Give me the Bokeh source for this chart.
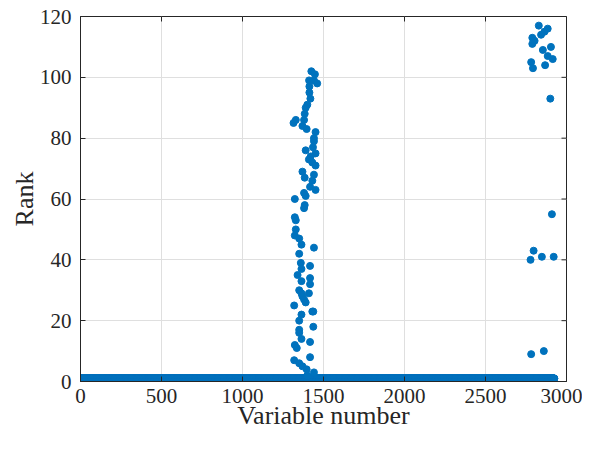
import numpy as np
from bokeh.plotting import figure
from bokeh.models import FixedTicker, Range1d
from bokeh.embed import file_html
from bokeh.resources import INLINE

# Baseline: every variable has rank 1 unless listed below
n_vars = 2925
base_x = list(range(1, n_vars + 1))
base_y = [1] * n_vars

# Cluster of higher-ranked variables around 1300-1460
c1_x = [1425, 1447, 1461, 1441, 1411, 1413, 1413, 1419, 1400, 1390, 1384, 1380, 1329, 1315,
        1370, 1396, 1451, 1441, 1441, 1435, 1390, 1451, 1421, 1410, 1431, 1451, 1370, 1441,
        1384, 1431, 1417, 1451, 1380, 1390, 1323, 1384, 1380, 1323, 1329, 1329, 1323, 1350,
        1364, 1441, 1350, 1360, 1417, 1364, 1340, 1417, 1364, 1417, 1350, 1364, 1410, 1370,
        1380, 1390, 1319, 1431, 1437, 1364, 1350, 1437, 1350, 1350, 1364, 1417, 1323, 1335,
        1417, 1319, 1350, 1370, 1396, 1441, 1400]
c1_y = [102, 101, 98, 99, 99, 97, 95, 93, 91, 90, 88, 86, 86, 85,
        84, 83, 82, 80, 79, 77, 76, 75, 74, 73, 72, 71, 69, 68,
        67, 66, 64, 63, 62, 61, 60, 58, 57, 54, 53, 50, 48, 47,
        45, 44, 42, 39, 38, 37, 35, 34, 33, 32, 30, 29, 29, 28,
        27, 26, 25, 23, 23, 22, 20, 18, 17, 16, 14, 13, 12, 11,
        8, 7, 6, 5, 4, 3, 2]

# Cluster near the end (2780-2925)
c2_x = [2829, 2884, 2864, 2843, 2789, 2803, 2789, 2904, 2854, 2884, 2915, 2782, 2868, 2793,
        2900, 2910, 2797, 2778, 2848, 2921, 2782, 2860]
c2_y = [117, 116, 115, 114, 113, 112, 111, 110, 109, 107, 106, 105, 104, 103,
        93, 55, 43, 40, 41, 41, 9, 10]

x_ticks = [0, 500, 1000, 1500, 2000, 2500, 3000]
y_ticks = [0, 20, 40, 60, 80, 100, 120]
x_lim = (0, 3000)
y_lim = (0, 120)

all_x = base_x + c1_x + c2_x
all_y = base_y + c1_y + c2_y

FONT = "Liberation Serif"
AX = "#262626"
BLUE = "#0072BD"

p = figure(frame_width=486, frame_height=365, output_backend="svg", toolbar_location=None,
           x_range=Range1d(*x_lim), y_range=Range1d(*y_lim),
           min_border_left=80, min_border_top=16, min_border_right=16, min_border_bottom=57)

p.scatter(all_x, all_y, size=7, color=BLUE, line_color=BLUE)

# box ticks on the top and right edges (inward), at the tick values
p.scatter([x_lim[1]] * len(y_ticks), y_ticks, marker="dash", size=10,
          line_color=AX, line_width=1)
p.scatter(x_ticks, [y_lim[1]] * len(x_ticks), marker="dash", angle=np.pi / 2, size=10,
          line_color=AX, line_width=1)

p.outline_line_color = AX
p.outline_line_width = 1
p.background_fill_color = "white"

p.xaxis.ticker = FixedTicker(ticks=x_ticks)
p.yaxis.ticker = FixedTicker(ticks=y_ticks)
p.xgrid.ticker = FixedTicker(ticks=x_ticks)
p.ygrid.ticker = FixedTicker(ticks=y_ticks)
p.grid.grid_line_color = "#dfdfdf"
p.grid.grid_line_width = 1

p.xaxis.axis_label = "Variable number"
p.yaxis.axis_label = "Rank"

for ax in [p.xaxis[0], p.yaxis[0]]:
    ax.axis_line_color = AX
    ax.major_tick_line_color = AX
    ax.major_tick_in = 5
    ax.major_tick_out = 0
    ax.minor_tick_line_color = None
    ax.major_label_text_font = FONT
    ax.major_label_text_font_size = "21px"
    ax.major_label_text_color = AX
    ax.axis_label_text_font = FONT
    ax.axis_label_text_font_size = "26px"
    ax.axis_label_text_font_style = "normal"
    ax.axis_label_text_color = AX

p.xaxis.major_label_standoff = 7
p.yaxis.major_label_standoff = 9
p.xaxis.axis_label_standoff = -5
p.yaxis.axis_label_standoff = -2

open("out.html", "w").write(file_html(p, INLINE))
